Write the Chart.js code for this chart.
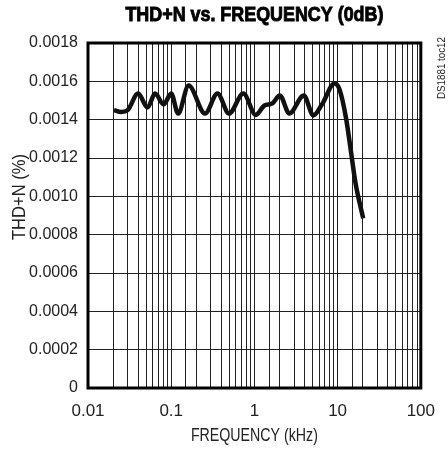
<!DOCTYPE html>
<html>
<head>
<meta charset="utf-8">
<script src="https://cdn.jsdelivr.net/npm/chart.js@4.4.1/dist/chart.umd.min.js"></script>
<style>
  body { margin: 0; background: #fff; }
  #grafico { display: block; }
</style>
</head>
<body>
<canvas id="grafico" width="448" height="454"></canvas>
<script>
// Datos
const frecuencias = [0.0205, 0.025, 0.03, 0.04, 0.052, 0.064, 0.081, 0.1, 0.121, 0.162,
    0.255, 0.36, 0.495, 0.737, 1.04, 1.32, 1.63, 2.02, 2.63, 3.92, 5.12, 6.5, 9.17,
    10.5, 12.6, 14.4, 16.4, 20.3];
const thdN = [0.00145, 0.00144, 0.00145, 0.001536, 0.001464, 0.001536, 0.00148, 0.001536,
    0.001432, 0.001578, 0.001432, 0.001536, 0.001432, 0.001536, 0.001425, 0.001474,
    0.001484, 0.001526, 0.001432, 0.001526, 0.001422, 0.00148, 0.001589,
    0.00156, 0.00141, 0.00124, 0.00107, 0.000885];
const ticksY = [0, 0.0002, 0.0004, 0.0006, 0.0008, 0.0010, 0.0012, 0.0014, 0.0016, 0.0018];

const fuente = '"Liberation Sans Narrow", "Arial Narrow", "Liberation Sans", sans-serif';

// Escribe un texto comprimido a lo ancho para imitar la letra estrecha del original
function textoEstrecho(ctx, texto, x, y, ancho, angulo, grosor) {
    ctx.save();
    ctx.translate(x, y);
    ctx.rotate(angulo || 0);
    const medida = ctx.measureText(texto).width;
    ctx.scale(Math.min(1, ancho / medida), 1);
    if (grosor) {
        ctx.lineWidth = grosor;
        ctx.strokeStyle = ctx.fillStyle;
        ctx.strokeText(texto, 0, 0);
    }
    ctx.fillText(texto, 0, 0);
    ctx.restore();
}

// Textos extra: título, ejes, marco y referencia lateral
const textosExtra = {
    id: 'textosExtra',
    afterDraw(chart) {
        const ctx = chart.ctx;
        const area = chart.chartArea;
        const centro = (area.left + area.right) / 2;
        ctx.save();
        ctx.strokeStyle = '#000';
        ctx.lineWidth = 3;
        ctx.strokeRect(area.left, area.top, area.right - area.left, area.bottom - area.top);

        ctx.fillStyle = '#000';
        ctx.textAlign = 'center';
        ctx.textBaseline = 'middle';
        ctx.font = 'bold 20px ' + fuente;
        textoEstrecho(ctx, 'THD+N vs. FREQUENCY (0dB)', centro, 15, 258, 0, 0.9);

        ctx.fillStyle = '#222';
        ctx.font = '18px ' + fuente;
        textoEstrecho(ctx, 'FREQUENCY (kHz)', centro, 436, 127);
        textoEstrecho(ctx, 'THD+N (%)', 20, 197, 86, -Math.PI / 2);

        ctx.font = '11px ' + fuente;
        textoEstrecho(ctx, 'DS1881 toc12', 442, 68, 62, -Math.PI / 2);
        ctx.restore();
    }
};

new Chart(document.getElementById('grafico').getContext('2d'), {
    type: 'line',
    data: {
        datasets: [{
            data: frecuencias.map((f, i) => ({ x: f, y: thdN[i] })),
            borderColor: '#111',
            borderWidth: 4.5,
            pointRadius: 0,
            cubicInterpolationMode: 'monotone',
            fill: false
        }]
    },
    options: {
        responsive: false,
        animation: false,
        layout: { padding: { top: 43, right: 13, left: 0, bottom: 0 } },
        plugins: { legend: { display: false }, title: { display: false }, tooltip: { enabled: false } },
        scales: {
            x: {
                type: 'logarithmic',
                min: 0.01,
                max: 100,
                grid: { color: '#222', lineWidth: 1, drawTicks: false },
                border: { display: false },
                ticks: {
                    autoSkip: false,
                    maxRotation: 0,
                    padding: 13,
                    color: '#222',
                    font: { family: fuente, size: 17 },
                    callback: function(valor) {
                        const l = Math.log10(valor);
                        return Math.abs(l - Math.round(l)) < 1e-6 ? String(valor) : '';
                    }
                },
                afterFit: function(escala) { escala.height = 66; }
            },
            y: {
                min: 0,
                max: 0.0018,
                grid: { color: '#222', lineWidth: 1, drawTicks: false },
                border: { display: false },
                afterBuildTicks: function(escala) {
                    escala.ticks = ticksY.map(v => ({ value: v }));
                },
                ticks: {
                    padding: 10,
                    color: '#222',
                    font: { family: fuente, size: 16 },
                    callback: function(valor) {
                        return valor === 0 ? '0' : valor.toFixed(4);
                    }
                },
                afterFit: function(escala) { escala.width = 88; }
            }
        }
    },
    plugins: [textosExtra]
});
</script>
</body>
</html>
